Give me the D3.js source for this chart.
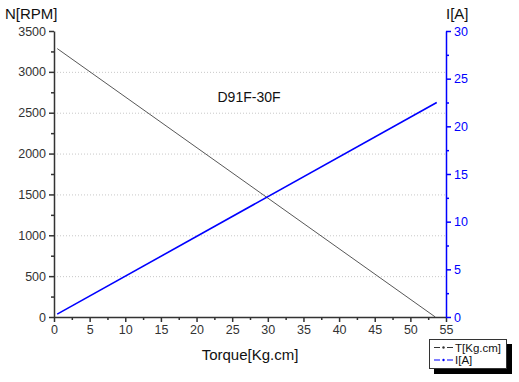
<!DOCTYPE html>
<head>
    <script src="https://d3js.org/d3.v7.min.js"></script>
    <style>
        body { margin: 0; background: #fff; }
        svg text { font-family: "Liberation Sans", Arial, sans-serif; }
    </style>
</head>
<body>
    <div id="chart"></div>
</body>
<script>
    // curves: torque [Kg.cm] vs speed and current
    const torque = [0.45, 53.5];
    const speed = [3285, 0];
    const torqueI = [0.45, 53.7];
    const current = [0.3, 22.5];
    const xTicks = d3.range(0, 56, 5);
    const nTicks = d3.range(0, 3501, 500);
    const iTicks = d3.range(0, 31, 5);

    const width = 519, height = 382;
    const plotL = 54, plotR = 446, plotT = 31, plotB = 317;

    const svg = d3.select('#chart').append('svg')
        .attr('width', width).attr('height', height);

    const x = d3.scaleLinear().domain([0, 55]).range([plotL, plotR]);
    const yN = d3.scaleLinear().domain([0, 3500]).range([plotB, plotT]);
    const yI = d3.scaleLinear().domain([0, 30]).range([plotB, plotT]);

    // dotted grid
    svg.append('g').selectAll('line').data(nTicks.filter(d => d > 0 && d < 3500))
        .enter().append('line')
        .attr('x1', plotL).attr('x2', plotR)
        .attr('y1', d => yN(d) + 0.5).attr('y2', d => yN(d) + 0.5)
        .attr('stroke', '#c8c8c8').attr('stroke-dasharray', '1,2');

    const gray = '#333';
    const blue = '#0000ff';
    const fmt = d3.format('d');

    function styleAxis(g, col) {
        g.selectAll('path,line').attr('stroke', col).attr('stroke-width', 1.5);
        g.selectAll('text').attr('fill', col).style('font-size', '12.5px');
    }

    // minor ticks
    svg.append('g').attr('transform', `translate(0,${plotB})`)
        .call(d3.axisBottom(x).tickValues(d3.range(2.5, 55, 5)).tickSize(3).tickFormat(''))
        .call(g => { g.select('.domain').remove(); styleAxis(g, gray); });
    svg.append('g').attr('transform', `translate(${plotL},0)`)
        .call(d3.axisLeft(yN).tickValues(d3.range(250, 3500, 500)).tickSize(3).tickFormat(''))
        .call(g => { g.select('.domain').remove(); styleAxis(g, gray); });
    svg.append('g').attr('transform', `translate(${plotR},0)`)
        .call(d3.axisRight(yI).tickValues(d3.range(2.5, 30, 5)).tickSize(3).tickFormat(''))
        .call(g => { g.select('.domain').remove(); styleAxis(g, blue); });

    // main axes
    svg.append('g').attr('transform', `translate(0,${plotB})`)
        .call(d3.axisBottom(x).tickValues(xTicks).tickFormat(fmt).tickSize(5).tickSizeOuter(0).tickPadding(3))
        .call(g => styleAxis(g, gray));
    svg.append('g').attr('transform', `translate(${plotL},0)`)
        .call(d3.axisLeft(yN).tickValues(nTicks).tickFormat(fmt).tickSize(5).tickSizeOuter(0).tickPadding(3))
        .call(g => styleAxis(g, gray));
    svg.append('g').attr('transform', `translate(${plotR},0)`)
        .call(d3.axisRight(yI).tickValues(iTicks).tickFormat(fmt).tickSize(5).tickSizeOuter(0).tickPadding(3))
        .call(g => styleAxis(g, blue));

    // curves
    const lineN = d3.line().x(d => x(d[0])).y(d => yN(d[1]));
    const lineI = d3.line().x(d => x(d[0])).y(d => yI(d[1]));
    svg.append('path').datum(d3.zip(torque, speed))
        .attr('d', lineN).attr('fill', 'none').attr('stroke', '#444').attr('stroke-width', 0.9);
    svg.append('path').datum(d3.zip(torqueI, current))
        .attr('d', lineI).attr('fill', 'none').attr('stroke', blue).attr('stroke-width', 1.6);

    // titles
    svg.append('text').attr('x', 5).attr('y', 19).text('N[RPM]')
        .style('font-size', '15px').attr('fill', '#111');
    svg.append('text').attr('x', 446).attr('y', 19).text('I[A]')
        .style('font-size', '15px').attr('fill', '#111');
    svg.append('text').attr('x', 250).attr('y', 360).attr('text-anchor', 'middle')
        .text('Torque[Kg.cm]').style('font-size', '15px').attr('fill', '#111');
    svg.append('text').attr('x', 249).attr('y', 102).attr('text-anchor', 'middle')
        .text('D91F-30F').style('font-size', '14px').attr('fill', '#111');

    // legend
    const lg = svg.append('g').attr('transform', 'translate(429,339)');
    lg.append('rect').attr('x', 5).attr('y', 5).attr('width', 78).attr('height', 30).attr('fill', '#000');
    lg.append('rect').attr('x', 0.5).attr('y', 0.5).attr('width', 77).attr('height', 29)
        .attr('fill', '#fff').attr('stroke', '#333');
    const items = [{ name: 'T[Kg.cm]', col: '#333' }, { name: 'I[A]', col: blue }];
    items.forEach((it, i) => {
        const yy = 8.5 + i * 12.5;
        lg.append('line').attr('x1', 5).attr('x2', 24).attr('y1', yy).attr('y2', yy)
            .attr('stroke', it.col).attr('stroke-width', 1.2).attr('stroke-dasharray', '6,3,1,3');
        lg.append('circle').attr('cx', 14.5).attr('cy', yy).attr('r', 1.2).attr('fill', it.col);
        lg.append('text').attr('x', 26).attr('y', yy + 4).text(it.name)
            .style('font-size', '11.5px').attr('fill', '#111');
    });
</script>
